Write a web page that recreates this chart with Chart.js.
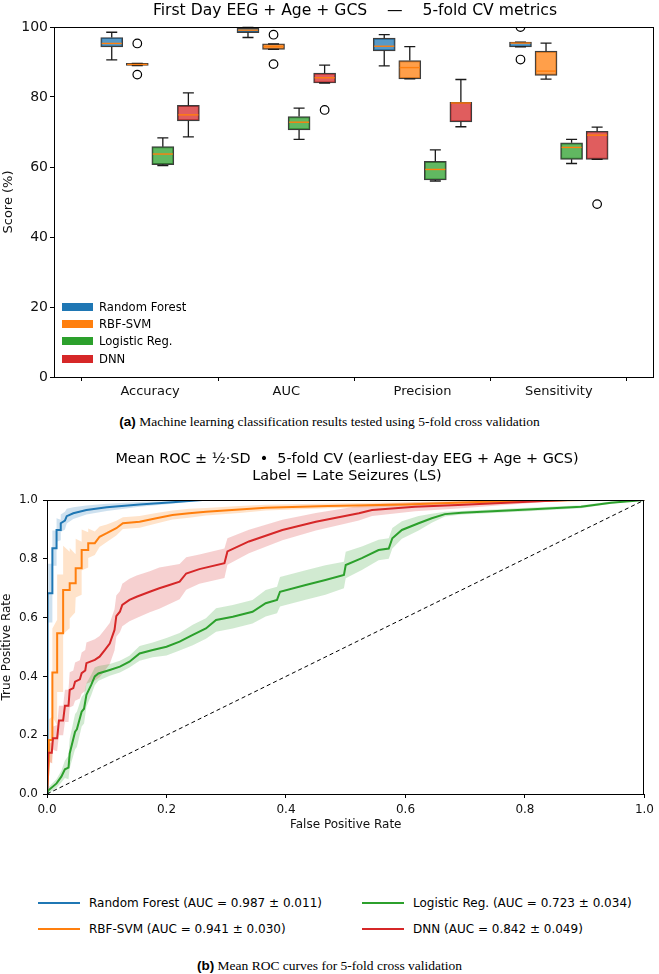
<!DOCTYPE html>
<html><head><meta charset="utf-8">
<script src="https://cdn.jsdelivr.net/npm/chart.js@4.4.1/dist/chart.umd.min.js"></script>
<style>
html,body{margin:0;padding:0;background:#fff;}
body{width:659px;height:974px;position:relative;overflow:hidden;font-family:"DejaVu Sans",sans-serif;color:#000;}
canvas{position:absolute;left:0;}
.ttl{position:absolute;white-space:pre;text-align:center;color:#000;}
.cap{position:absolute;left:0;width:659px;text-align:center;font-family:"Liberation Serif","Times New Roman",serif;font-size:13.5px;line-height:16px;}
.cap b{font-family:"Liberation Sans",Arial,sans-serif;}
.legA{position:absolute;left:62px;top:298px;font-size:11.6px;}
.legA .row{height:17.3px;display:flex;align-items:center;}
.legA .patch{width:31px;height:8px;margin-right:6px;}
.legB{position:absolute;font-size:12px;}
.legB .row{position:absolute;display:flex;align-items:center;white-space:pre;height:16px;}
.legB .ln{width:42px;height:2px;margin-right:9px;}
</style></head>
<body>
<canvas id="cA" width="659" height="410" style="top:0"></canvas>
<canvas id="cB" width="659" height="400" style="top:440px"></canvas>
<div class="ttl" style="left:54px;width:602px;top:1px;font-size:15.6px;line-height:18px;">First Day EEG + Age + GCS    —    5-fold CV metrics</div>
<div class="legA" id="legA"></div>
<div class="cap" style="top:414px"><b>(a)</b> Machine learning classification results tested using 5-fold cross validation</div>
<div class="ttl" style="left:47px;width:600px;top:450px;font-size:14.4px;line-height:17px;">Mean ROC ± ½·SD  •  5-fold CV (earliest-day EEG + Age + GCS)
Label = Late Seizures (LS)</div>
<div class="legB" id="legB"></div>
<div class="cap" style="top:958px"><b>(b)</b> Mean ROC curves for 5-fold cross validation</div>
<script>
// ---------------- data: panel (a) ----------------
const metrics = ['Accuracy','AUC','Precision','Sensitivity'];
const modelNames = ['Random Forest','RBF-SVM','Logistic Reg.','DNN'];
const modelColors = ['#1f77b4','#ff7f0e','#2ca02c','#d62728'];
// per metric: [whisker low, Q1, median, Q3, whisker high]
const rfBoxes  = [[90.6,94.3,95.3,97.0,98.5],[97.0,98.4,99.1,99.7,99.9],[88.9,93.2,94.5,96.8,97.8],[94.3,94.3,95.4,95.7,95.7]];
const svmBoxes = [[89.0,89.0,89.3,89.6,89.6],[93.6,93.6,94.4,95.2,95.2],[85.2,85.2,88.4,90.4,94.4],[85.1,86.2,87.4,93.1,95.4]];
const lrBoxes  = [[60.4,60.7,63.7,65.8,68.3],[67.9,70.6,72.8,74.4,76.8],[56.0,56.3,59.3,61.6,64.9],[61.0,62.2,65.6,66.9,67.9]];
const dnnBoxes = [[68.6,73.2,74.9,77.6,81.2],[84.0,84.0,85.5,86.8,89.1],[71.5,72.9,78.3,78.5,85.0],[62.2,62.2,69.1,70.2,71.4]];
const rfOutliers  = [[],[],[],[100.0,90.7]];
const svmOutliers = [[95.3,86.4],[97.8,89.4],[],[]];
const lrOutliers  = [[],[],[],[]];
const dnnOutliers = [[],[76.3],[],[49.4]];
const scoreTicks = [0,20,40,60,80,100];

// ---------------- data: panel (b) ----------------
const rfFpr = [0,0.001,0.009,0.009,0.016,0.016,0.023,0.023,0.03,0.033,0.044,0.066,0.10,0.155,0.21,0.26,1.0];
const rfTpr = [0,0.683,0.683,0.836,0.836,0.898,0.898,0.921,0.93,0.945,0.955,0.966,0.975,0.985,0.992,1.0,1.0];
const rfHalfSd = [0,0.10,0.10,0.06,0.06,0.04,0.035,0.03,0.03,0.025,0.02,0.015,0.012,0.008,0.005,0,0];

const svmFpr = [0,0.003,0.003,0.009,0.009,0.017,0.017,0.027,0.027,0.038,0.038,0.047,0.048,0.058,0.058,0.069,0.069,0.08,0.088,0.10,0.116,0.127,0.155,0.183,0.21,0.238,0.266,0.322,0.366,0.47,0.6,0.72,0.9,1.0];
const svmTpr = [0,0.104,0.184,0.184,0.413,0.413,0.547,0.547,0.694,0.694,0.717,0.717,0.768,0.768,0.83,0.83,0.853,0.853,0.875,0.887,0.904,0.921,0.926,0.938,0.949,0.955,0.96,0.968,0.974,0.98,0.985,0.993,1.0,1.0];
const svmHalfSd = [0,0.05,0.07,0.08,0.15,0.18,0.2,0.2,0.15,0.13,0.12,0.1,0.1,0.09,0.07,0.06,0.05,0.04,0.035,0.03,0.025,0.02,0.02,0.018,0.015,0.015,0.013,0.012,0.01,0.008,0.007,0.005,0,0];

const lrFpr = [0,0.002,0.016,0.024,0.03,0.036,0.038,0.047,0.05,0.058,0.062,0.066,0.074,0.08,0.086,0.105,0.122,0.138,0.155,0.177,0.2,0.222,0.244,0.266,0.283,0.311,0.344,0.366,0.385,0.39,0.433,0.466,0.497,0.5,0.527,0.555,0.572,0.578,0.594,0.622,0.644,0.666,0.694,0.805,0.894,0.944,1.0];
const lrTpr = [0,0.012,0.036,0.059,0.084,0.09,0.138,0.212,0.22,0.28,0.29,0.337,0.371,0.40,0.41,0.422,0.433,0.45,0.478,0.49,0.501,0.518,0.541,0.563,0.592,0.603,0.62,0.649,0.66,0.688,0.711,0.728,0.745,0.779,0.802,0.83,0.835,0.87,0.898,0.921,0.938,0.952,0.957,0.968,0.977,0.991,1.0];
const lrHalfSd = [0,0.01,0.015,0.02,0.03,0.04,0.05,0.06,0.06,0.05,0.05,0.04,0.035,0.03,0.025,0.02,0.02,0.02,0.025,0.025,0.03,0.03,0.035,0.035,0.04,0.04,0.04,0.045,0.045,0.05,0.05,0.05,0.045,0.045,0.04,0.035,0.035,0.035,0.03,0.025,0.015,0.008,0.006,0.006,0.005,0.004,0];

const dnnFpr = [0,0.002,0.008,0.01,0.017,0.02,0.027,0.03,0.036,0.038,0.044,0.047,0.055,0.058,0.064,0.066,0.08,0.088,0.097,0.105,0.113,0.116,0.122,0.126,0.138,0.15,0.172,0.188,0.205,0.222,0.233,0.255,0.297,0.302,0.338,0.394,0.45,0.522,0.544,0.616,0.688,0.805,0.872,1.0];
const dnnTpr = [0,0.14,0.14,0.19,0.19,0.25,0.25,0.30,0.30,0.354,0.36,0.382,0.39,0.411,0.42,0.445,0.456,0.467,0.49,0.512,0.558,0.605,0.62,0.643,0.66,0.671,0.688,0.70,0.711,0.722,0.75,0.765,0.785,0.825,0.859,0.898,0.926,0.955,0.966,0.977,0.983,0.994,1.0,1.0];
const dnnHalfSd = [0,0.03,0.035,0.04,0.045,0.05,0.05,0.055,0.055,0.06,0.06,0.065,0.065,0.07,0.07,0.07,0.07,0.07,0.07,0.07,0.07,0.07,0.07,0.072,0.072,0.072,0.07,0.07,0.065,0.06,0.055,0.05,0.05,0.045,0.04,0.035,0.03,0.025,0.02,0.015,0.012,0.005,0,0];

const aucMean = [0.987,0.941,0.723,0.842];
const aucSd   = [0.011,0.030,0.034,0.049];
const rateTicks = [0,0.2,0.4,0.6,0.8,1.0];

// ---------------- helpers ----------------
function rgba(hex,a){const n=parseInt(hex.slice(1),16);return `rgba(${n>>16&255},${n>>8&255},${n&255},${a})`;}
const allBoxes = [rfBoxes,svmBoxes,lrBoxes,dnnBoxes];
const allOutliers = [rfOutliers,svmOutliers,lrOutliers,dnnOutliers];
const groupOffsets = [-0.28125,-0.09375,0.09375,0.28125];
const BOX_PX = 22;

const framePlugin = {
  id:'frame',
  afterDatasetsDraw(chart){
    const {ctx, chartArea:a} = chart;
    ctx.save(); ctx.strokeStyle='#000'; ctx.lineWidth=1;
    ctx.strokeRect(Math.round(a.left)+0.5, Math.round(a.top)+0.5, Math.round(a.right-a.left)-1, Math.round(a.bottom-a.top));
    ctx.restore();
  }
};

const whiskerPlugin = {
  id:'whiskers',
  afterDatasetsDraw(chart){
    const {ctx, scales:{x,y}} = chart;
    ctx.save();
    allBoxes.forEach((boxes,k)=>{
      boxes.forEach((b,i)=>{
        const cx = x.getPixelForValue(i+groupOffsets[k]);
        const [lo,q1,med,q3,hi] = b.map(v=>y.getPixelForValue(v));
        const cap = BOX_PX/4;
        ctx.strokeStyle='#1a1a1a'; ctx.lineWidth=1.3;
        ctx.beginPath();
        ctx.moveTo(cx,q3); ctx.lineTo(cx,hi); ctx.moveTo(cx-cap,hi); ctx.lineTo(cx+cap,hi);
        ctx.moveTo(cx,q1); ctx.lineTo(cx,lo); ctx.moveTo(cx-cap,lo); ctx.lineTo(cx+cap,lo);
        ctx.stroke();
        ctx.strokeStyle='#ff7f0e'; ctx.lineWidth=1.4;
        ctx.beginPath(); ctx.moveTo(cx-BOX_PX/2+1,med); ctx.lineTo(cx+BOX_PX/2-1,med); ctx.stroke();
      });
    });
    ctx.restore();
  }
};

// ---------------- chart (a) ----------------
const boxDatasets = modelNames.map((name,k)=>({
  type:'bar', label:name,
  data: allBoxes[k].map((b,i)=>({x:i+groupOffsets[k], y:[b[1],b[3]]})),
  backgroundColor: rgba(modelColors[k],0.75),
  borderColor:'rgba(40,40,40,0.9)', borderWidth:1.2, borderSkipped:false,
  barThickness:BOX_PX, grouped:false, order:2
}));
const outlierPoints = [];
allOutliers.forEach((outs,k)=>outs.forEach((list,i)=>list.forEach(v=>outlierPoints.push({x:i+groupOffsets[k], y:v}))));
const outlierDataset = {type:'scatter', label:'outliers', data:outlierPoints, pointRadius:4.3, pointStyle:'circle',
  pointBackgroundColor:'rgba(0,0,0,0)', pointBorderColor:'#000', pointBorderWidth:1.2, clip:0, order:1};

new Chart(document.getElementById('cA'),{
  type:'bar',
  data:{datasets:[...boxDatasets, outlierDataset]},
  options:{
    responsive:false, animation:false, events:[],
    layout:{padding:{top:27,right:3,left:0,bottom:0}},
    plugins:{legend:{display:false},tooltip:{enabled:false},title:{display:false}},
    scales:{
      x:{type:'linear', min:-0.705, max:3.695, offset:false,
        afterBuildTicks(s){ s.ticks = metrics.map((m,i)=>({value:i})); },
        afterFit(s){ s.height = 33; },
        ticks:{autoSkip:false, maxRotation:0, padding:3, color:'#111', font:{family:'DejaVu Sans',size:13},
          callback:(v)=>metrics[v]},
        grid:{drawOnChartArea:false, drawTicks:true, tickLength:4, color:'#000'},
        border:{display:true,color:'#000',width:1}
      },
      y:{type:'linear', min:0, max:100,
        afterBuildTicks(s){ s.ticks = scoreTicks.map(v=>({value:v})); },
        afterFit(s){ s.width = 54; },
        ticks:{padding:2, color:'#111', font:{family:'DejaVu Sans',size:14}},
        grid:{drawOnChartArea:false, drawTicks:true, tickLength:4, color:'#000'},
        border:{display:true,color:'#000',width:1},
        title:{display:true, text:'Score (%)', color:'#111', font:{family:'DejaVu Sans',size:13}, padding:{top:1,bottom:0}}
      }
    }
  },
  plugins:[whiskerPlugin, framePlugin]
});

// legend (a)
const legA = document.getElementById('legA');
modelNames.forEach((n,k)=>{
  const r=document.createElement('div'); r.className='row';
  r.innerHTML=`<span class="patch" style="background:${modelColors[k]}"></span><span>${n}</span>`;
  legA.appendChild(r);
});

// ---------------- chart (b) ----------------
const rocFpr = [rfFpr,svmFpr,lrFpr,dnnFpr];
const rocTpr = [rfTpr,svmTpr,lrTpr,dnnTpr];
const rocHalf = [rfHalfSd,svmHalfSd,lrHalfSd,dnnHalfSd];
const rocDatasets = [];
modelNames.forEach((name,k)=>{
  const f=rocFpr[k], t=rocTpr[k], h=rocHalf[k];
  rocDatasets.push({label:name+' +½SD', data:f.map((x,i)=>({x, y:Math.min(1,t[i]+h[i])})),
    borderWidth:0, pointRadius:0, fill:'+1', backgroundColor:rgba(modelColors[k],0.22), order:10});
  rocDatasets.push({label:name+' −½SD', data:f.map((x,i)=>({x, y:Math.max(0,t[i]-h[i])})),
    borderWidth:0, pointRadius:0, fill:false, order:10});
});
modelNames.forEach((name,k)=>{
  rocDatasets.push({label:`${name} (AUC = ${aucMean[k].toFixed(3)} ± ${aucSd[k].toFixed(3)})`,
    data:rocFpr[k].map((x,i)=>({x, y:rocTpr[k][i]})),
    borderColor:modelColors[k], borderWidth:2, pointRadius:0, fill:false, tension:0, order:5-k});
});
rocDatasets.push({label:'chance', data:[{x:0,y:0},{x:1,y:1}], borderColor:'#000', borderWidth:1,
  borderDash:[4,3], pointRadius:0, fill:false, order:0});

new Chart(document.getElementById('cB'),{
  type:'line',
  data:{datasets:rocDatasets},
  options:{
    responsive:false, animation:false, events:[],
    layout:{padding:{top:60,right:12,left:0,bottom:0}},
    plugins:{legend:{display:false},tooltip:{enabled:false},title:{display:false}},
    scales:{
      x:{type:'linear', min:0, max:1,
        afterBuildTicks(s){ s.ticks = rateTicks.map(v=>({value:v})); },
        afterFit(s){ s.height = 46; },
        ticks:{padding:5, color:'#111', font:{family:'DejaVu Sans',size:12}, callback:v=>v.toFixed(1)},
        grid:{drawOnChartArea:false, drawTicks:true, tickLength:4, color:'#000'},
        border:{display:true,color:'#000',width:1},
        title:{display:true, text:'False Positive Rate', color:'#111', font:{family:'DejaVu Sans',size:12}, padding:{top:0,bottom:8}}
      },
      y:{type:'linear', min:0, max:1,
        afterBuildTicks(s){ s.ticks = rateTicks.map(v=>({value:v})); },
        afterFit(s){ s.width = 47; },
        ticks:{padding:5, color:'#111', font:{family:'DejaVu Sans',size:12}, callback:v=>v.toFixed(1)},
        grid:{drawOnChartArea:false, drawTicks:true, tickLength:4, color:'#000'},
        border:{display:true,color:'#000',width:1},
        title:{display:true, text:'True Positive Rate', color:'#111', font:{family:'DejaVu Sans',size:12}, padding:{top:0,bottom:0}}
      }
    }
  },
  plugins:[framePlugin]
});

// legend (b): two columns
const legB = document.getElementById('legB');
const legPos = [[38,895],[38,921],[362,895],[362,921]];
modelNames.forEach((n,k)=>{
  const r=document.createElement('div'); r.className='row';
  r.style.left=legPos[k][0]+'px'; r.style.top=legPos[k][1]+'px';
  r.innerHTML=`<span class="ln" style="background:${modelColors[k]}"></span><span>${n} (AUC = ${aucMean[k].toFixed(3)} ± ${aucSd[k].toFixed(3)})</span>`;
  legB.appendChild(r);
});
</script>
</body></html>
